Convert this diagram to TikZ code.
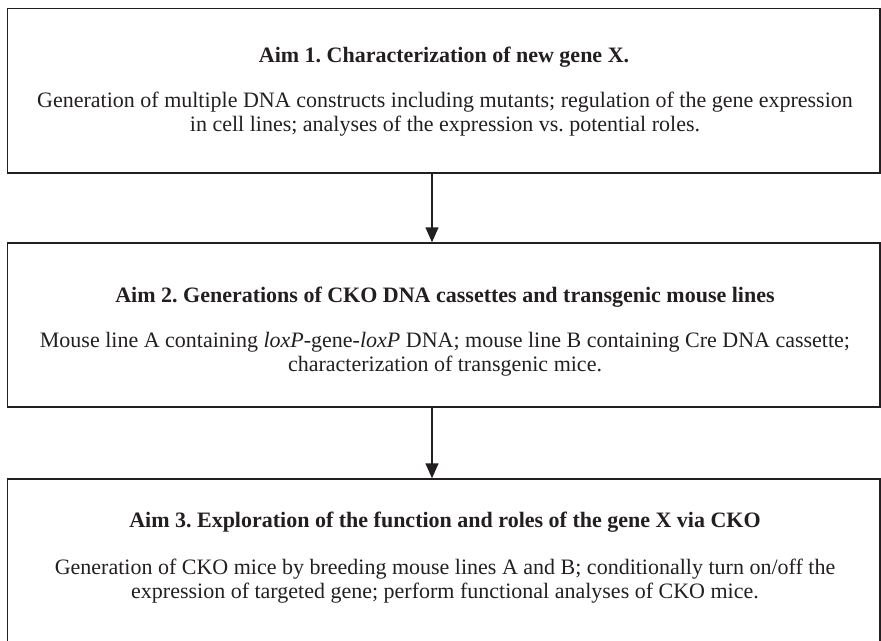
\documentclass[tikz,border=0pt]{standalone}
\usepackage{fontspec}
\setmainfont{Liberation Serif}
\usetikzlibrary{arrows.meta}
\definecolor{ink}{HTML}{231F20}
\frenchspacing
\tikzset{
  aimbox/.style={draw=ink, line width=1.5pt, minimum width=872.5pt, inner sep=0pt},
  title/.style={text=ink, anchor=base, font=\fontsize{22}{24}\selectfont\bfseries},
  body/.style={text=ink, anchor=base, align=center, font=\fontsize{22}{24}\selectfont},
  flow/.style={draw=ink, line width=1.5pt, -{Triangle[width=13pt,length=15pt]}}
}
\begin{document}
\begin{tikzpicture}[x=1pt, y=-1pt]
  \useasboundingbox (0,0) rectangle (881,640);
  \clip (0,0) rectangle (881,640);

  % the three stacked aims
  \node[aimbox, minimum height=164.5pt] (aim1) at (443.75,90.75) {};
  \node[aimbox, minimum height=164pt] (aim2) at (443.75,325) {};
  \node[aimbox, minimum height=170pt] (aim3) at (443.75,564) {};

  % texts of aim 1 (body anchored on its last line)
  \node[title] (t1) at (444,62) {Aim 1. Characterization of new gene X.};
  \node[body] (b1) at (445,131) {Generation of multiple DNA constructs including mutants; regulation of the gene expression\\ in cell lines; analyses of the expression vs. potential roles.};

  % texts of aim 2
  \node[title] (t2) at (445,302) {Aim 2. Generations of CKO DNA cassettes and transgenic mouse lines};
  \node[body] (b2) at (445,371) {Mouse line A containing \textit{loxP}-gene-\textit{loxP} DNA; mouse line B containing Cre DNA cassette;\\ characterization of transgenic mice.};

  % texts of aim 3
  \node[title] (t3) at (445,527) {Aim 3. Exploration of the function and roles of the gene X via CKO};
  \node[body] (b3) at (445,598) {Generation of CKO mice by breeding mouse lines A and B; conditionally turn on/off the\\ expression of targeted gene; perform functional analyses of CKO mice.};

  % connectors
  \coordinate (ax) at (432,0);
  \draw[flow] (aim1.south -| ax) -- (aim2.north -| ax);
  \draw[flow] (aim2.south -| ax) -- (aim3.north -| ax);
\end{tikzpicture}
\end{document}
